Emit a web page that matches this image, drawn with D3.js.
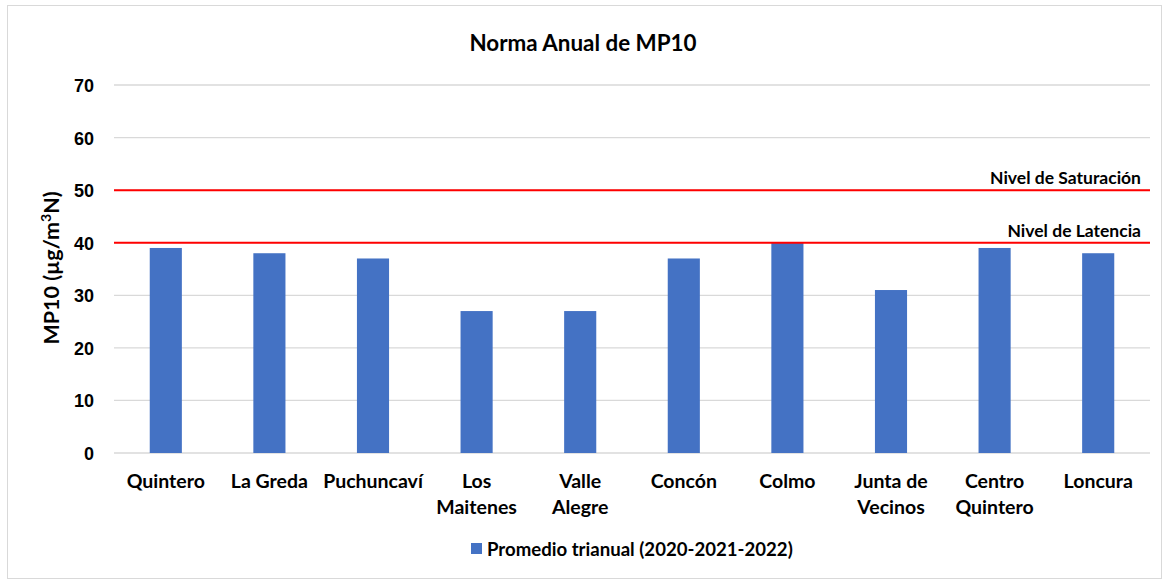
<!DOCTYPE html>
<html lang="es">
<head>
  <meta charset="UTF-8" />
  <title>Norma Anual de MP10</title>
  <script src="https://d3js.org/d3.v7.min.js"></script>
  <style>
    body { margin: 0; background: #fff; font-family: Lato, "Open Sans", sans-serif; }
    svg { display: block; }
    .tick text { font-weight: bold; font-size: 18px; fill: #000; }
    .grid line { stroke: #d9d9d9; stroke-width: 1.3px; }
  </style>
</head>
<body>
  <svg id="chart" width="1169" height="583"></svg>
  <script>
    const stations = ['Quintero', 'La Greda', 'Puchuncaví', 'Los Maitenes', 'Valle Alegre',
                      'Concón', 'Colmo', 'Junta de Vecinos', 'Centro Quintero', 'Loncura'];
    // x labels as they wrap in the original
    const stationLines = [['Quintero'], ['La Greda'], ['Puchuncaví'], ['Los', 'Maitenes'], ['Valle', 'Alegre'],
                          ['Concón'], ['Colmo'], ['Junta de', 'Vecinos'], ['Centro', 'Quintero'], ['Loncura']];
    const promedio = [39, 38, 37, 27, 27, 37, 40, 31, 39, 38];
    const yTicks = [0, 10, 20, 30, 40, 50, 60, 70];
    const limits = [
      { name: 'Nivel de Saturación', value: 50 },
      { name: 'Nivel de Latencia', value: 40 }
    ];
    const seriesName = 'Promedio trianual (2020-2021-2022)';

    const svg = d3.select('#chart');
    const plotLeft = 114, plotRight = 1150, plotTop = 85, plotBottom = 453;

    // outer frame
    svg.append('rect').attr('x', 7.5).attr('y', 5.5).attr('width', 1154).attr('height', 573)
      .attr('fill', '#fff').attr('stroke', '#d9d9d9').attr('stroke-width', 1);

    const x = d3.scaleBand().domain(stations).range([plotLeft, plotRight]).paddingInner(0.69).paddingOuter(0.345);
    const y = d3.scaleLinear().domain([0, 70]).range([plotBottom, plotTop]);

    svg.append('g').attr('class', 'grid')
      .selectAll('line').data(yTicks).join('line')
      .attr('x1', plotLeft).attr('x2', plotRight)
      .attr('y1', d => y(d)).attr('y2', d => y(d));

    const yAxis = svg.append('g').attr('transform', `translate(${plotLeft},0)`)
      .call(d3.axisLeft(y).tickValues(yTicks).tickSize(0).tickPadding(20));
    yAxis.select('.domain').remove();
    yAxis.selectAll('text').attr('dy', '0.36em');

    svg.append('g').selectAll('rect').data(stations).join('rect')
      .attr('x', d => x(d)).attr('width', x.bandwidth())
      .attr('y', (d, i) => y(promedio[i])).attr('height', (d, i) => y(0) - y(promedio[i]))
      .attr('fill', '#4472c4');

    // limit lines
    svg.append('g').selectAll('line').data(limits).join('line')
      .attr('x1', plotLeft).attr('x2', plotRight)
      .attr('y1', d => y(d.value)).attr('y2', d => y(d.value))
      .attr('stroke', '#ff0000').attr('stroke-width', 2);
    svg.append('g').selectAll('text').data(limits).join('text')
      .attr('x', 1141).attr('y', d => y(d.value) - 6)
      .attr('text-anchor', 'end').attr('font-size', 17.5).attr('font-weight', 'bold')
      .text(d => d.name);

    // x labels
    const xl = svg.append('g').selectAll('text').data(stations).join('text')
      .attr('text-anchor', 'middle').attr('font-size', 19.5).attr('font-weight', 'bold')
      .attr('x', d => x(d) + x.bandwidth() / 2).attr('y', 488);
    xl.selectAll('tspan').data((d, i) => stationLines[i]).join('tspan')
      .attr('x', function () { return d3.select(this.parentNode).attr('x'); })
      .attr('dy', (d, i) => i === 0 ? 0 : 26)
      .text(d => d);

    // y axis title
    const yt = svg.append('text')
      .attr('transform', 'translate(59,268) rotate(-90)')
      .attr('text-anchor', 'middle').attr('font-size', 21.5).attr('font-weight', 'bold');
    yt.append('tspan').text('MP10 (µg/m');
    yt.append('tspan').attr('font-size', 14).attr('dy', -8).text('3');
    yt.append('tspan').attr('dy', 8).text('N)');

    // title
    svg.append('text').attr('x', 583).attr('y', 51).attr('text-anchor', 'middle')
      .attr('font-size', 22.4).attr('font-weight', 'bold').text('Norma Anual de MP10');

    // legend
    const lg = svg.append('g').attr('transform', 'translate(471,543)');
    lg.append('rect').attr('width', 11).attr('height', 11).attr('fill', '#4472c4');
    lg.append('text').attr('x', 16).attr('y', 13).attr('font-size', 18.6).attr('font-weight', 'bold').text(seriesName);
  </script>
</body>
</html>
